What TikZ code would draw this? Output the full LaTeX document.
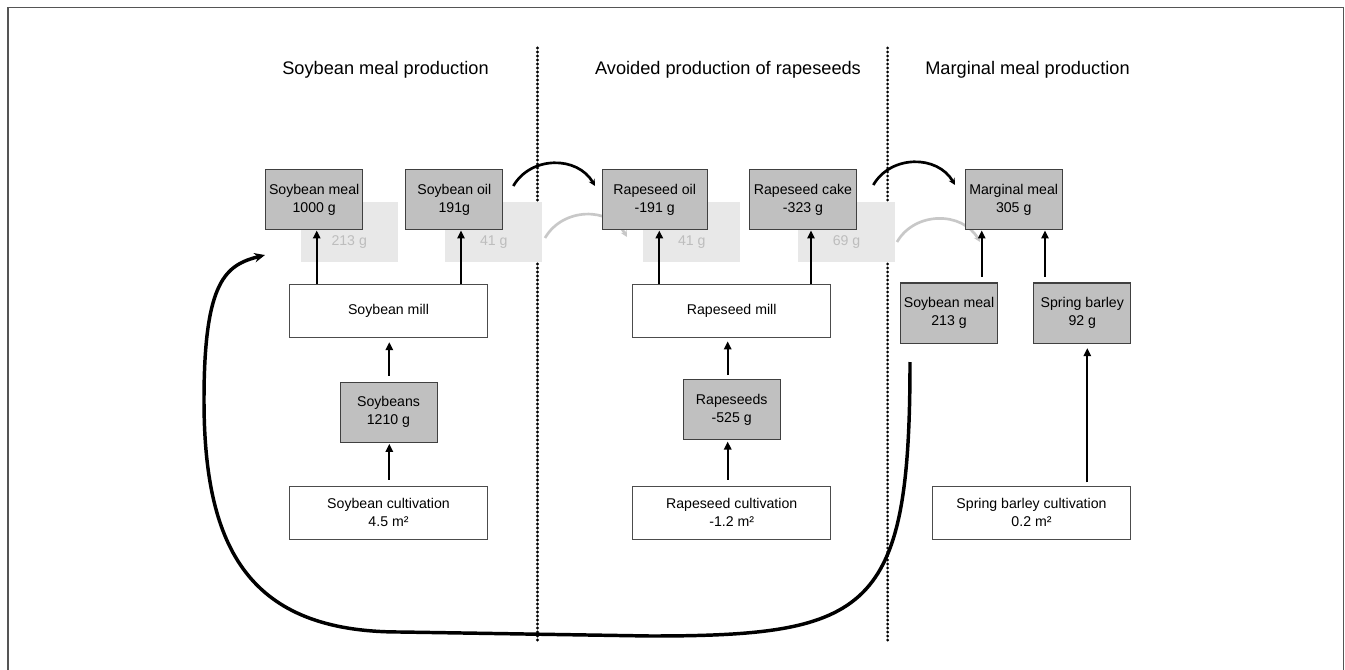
\documentclass[tikz,border=0pt]{standalone}
\usepackage{fontspec}
\setmainfont{Liberation Sans}
\usetikzlibrary{arrows.meta}
\definecolor{boxgrey}{HTML}{C0C0C0}
\definecolor{shadegrey}{HTML}{E8E8E8}
\definecolor{fadetext}{HTML}{BDBDBD}
\definecolor{fadearc}{HTML}{C8C8C8}
\definecolor{framegrey}{HTML}{555555}

\begin{document}
\begin{tikzpicture}[x=0.75pt,y=-0.75pt]
        \tikzstyle{every node}+=[inner sep=0pt, align=center, font=\fontsize{10.6}{13.7}\selectfont]
        \tikzstyle{greybox}=[draw=black!75, fill=boxgrey, line width=0.75pt, minimum width=72.75pt, minimum height=45pt]
        \tikzstyle{whitebox}=[draw=black!70, fill=white, line width=0.75pt, minimum width=148.5pt, minimum height=39.75pt]
        \tikzstyle{shade}=[fill=shadegrey, minimum width=73pt, minimum height=45pt]
        \tikzstyle{faded}=[text=fadetext]
        \tikzstyle{title}=[font=\fontsize{13.65}{16}\selectfont]
        \tikzstyle{border}=[black, line width=2.3pt, line cap=round, dash pattern=on 0pt off 3pt]
        \tikzstyle{flow}=[black, line width=1.4pt, -{Triangle[length=6pt,width=5.5pt]}]
        \tikzstyle{jump}=[black, line width=2pt, -{Stealth[length=5pt,width=5pt]}, out=60, in=120, looseness=1.1]
        \tikzstyle{ghost}=[fadearc, line width=2pt, -{Stealth[length=5pt,width=5pt]}, out=60, in=120, looseness=1.1]
        \tikzstyle{loopback}=[black, line width=2.6pt, -{Stealth[length=8pt,width=7pt]}]
        \useasboundingbox (0,0) rectangle (1345,670);
        \draw [framegrey, line width=0.8pt] (8,672) -- (8,7.5) -- (1343.5,7.5) -- (1343.5,672);
        % section titles and borders
        \node [title] (ttlsoy) at (385.5,70) {Soybean meal production};
        \node [title] (ttlrape) at (728,70) {Avoided production of rapeseeds};
        \node [title] (ttlmarg) at (1027.5,70) {Marginal meal production};
        \draw [border] (537.5,48) -- (537.5,643);
        \draw [border] (887.7,48) -- (887.7,643);
        % faded layer
        \coordinate (ghostaout) at (545,238);
        \coordinate (ghostain) at (627,237);
        \coordinate (ghostbout) at (897,242);
        \coordinate (ghostbin) at (980,242);
        \draw [ghost] (ghostaout) to (ghostain);
        \draw [ghost] (ghostbout) to (ghostbin);
        \node [shade] (shsmeal) at (349.2,231.7) {};
        \node [faded, yshift=-7.5pt] (shsmealtxt) at (shsmeal) {213 g};
        \node [shade] (shsoil) at (493.8,231.7) {};
        \node [faded, yshift=-7.5pt] (shsoiltxt) at (shsoil) {41 g};
        \node [shade] (shroil) at (691.8,231.7) {};
        \node [faded, yshift=-7.5pt] (shroiltxt) at (shroil) {41 g};
        \node [shade] (shrcake) at (846.5,231.7) {};
        \node [faded, yshift=-7.5pt] (shrcaketxt) at (shrcake) {69 g};
        % products
        \node [greybox] (smeal) at (314.2,200) {Soybean meal\\1000 g};
        \node [greybox] (soil) at (454.3,200) {Soybean oil\\191g};
        \node [greybox, minimum width=78.5pt] (roil) at (654.7,200) {Rapeseed oil\\-191 g};
        \node [greybox, minimum width=80.5pt] (rcake) at (803,200) {Rapeseed cake\\-323 g};
        \node [greybox] (mmeal) at (1013.7,200) {Marginal meal\\305 g};
        \node [greybox] (smealb) at (949,313) {Soybean meal\\213 g};
        \node [greybox] (sbarley) at (1082.3,313) {Spring barley\\92 g};
        % processes
        \node [whitebox] (smill) at (388.5,311.2) {Soybean mill};
        \node [greybox] (sbeans) at (388.5,412) {Soybeans\\1210 g};
        \node [whitebox] (scult) at (388.5,512.7) {Soybean cultivation\\4.5 m²};
        \node [whitebox] (rmill) at (731.7,311) {Rapeseed mill};
        \node [greybox] (rseeds) at (731.7,409.7) {Rapeseeds\\-525 g};
        \node [whitebox] (rcult) at (731.7,512.7) {Rapeseed cultivation\\-1.2 m²};
        \node [whitebox] (bcult) at (1031.5,512.7) {Spring barley cultivation\\0.2 m²};
        % flows
        \draw [flow] (316.7,0 |- smill.north) -- (316.7,0 |- smeal.south);
        \draw [flow] (461,0 |- smill.north) -- (461,0 |- soil.south);
        \draw [flow, shorten <=4.2pt, shorten >=3pt] (389.3,0 |- sbeans.north) -- (389.3,0 |- smill.south);
        \draw [flow, shorten <=4.5pt, shorten >=1pt] (389.3,0 |- scult.north) -- (389.3,0 |- sbeans.south);
        \draw [flow] (659.3,0 |- rmill.north) -- (659.3,0 |- roil.south);
        \draw [flow] (811,0 |- rmill.north) -- (811,0 |- rcake.south);
        \draw [flow, shorten <=3pt, shorten >=2.5pt] (727.7,0 |- rseeds.north) -- (727.7,0 |- rmill.south);
        \draw [flow, shorten <=4.5pt, shorten >=1pt] (727.7,0 |- rcult.north) -- (727.7,0 |- rseeds.south);
        \draw [flow, shorten <=4.2pt] (981.7,0 |- smealb.north) -- (981.7,0 |- mmeal.south);
        \draw [flow, shorten <=4.2pt] (1045,0 |- sbarley.north) -- (1045,0 |- mmeal.south);
        \draw [flow, shorten <=2.5pt, shorten >=3.5pt] (1087.3,0 |- bcult.north) -- (1087.3,0 |- sbarley.south);
        % substitution jumps
        \coordinate (jumpaout) at (513.3,186);
        \coordinate (jumpain) at (595,186);
        \coordinate (jumpbout) at (873.3,185);
        \coordinate (jumpbin) at (955,185);
        \draw [jump] (jumpaout) to (jumpain);
        \draw [jump] (jumpbout) to (jumpbin);
        % loop back to soybean meal
        \coordinate (loopstart) at (910,362);
        \coordinate (loopend) at (265,255);
        \draw [loopback] (loopstart) .. controls (910,612) and (870,636) .. (650,636) -- (400,632)
                .. controls (250,632) and (204,550) .. (204,400)
                .. controls (204,280) and (226,265) .. (loopend);
\end{tikzpicture}
\end{document}
